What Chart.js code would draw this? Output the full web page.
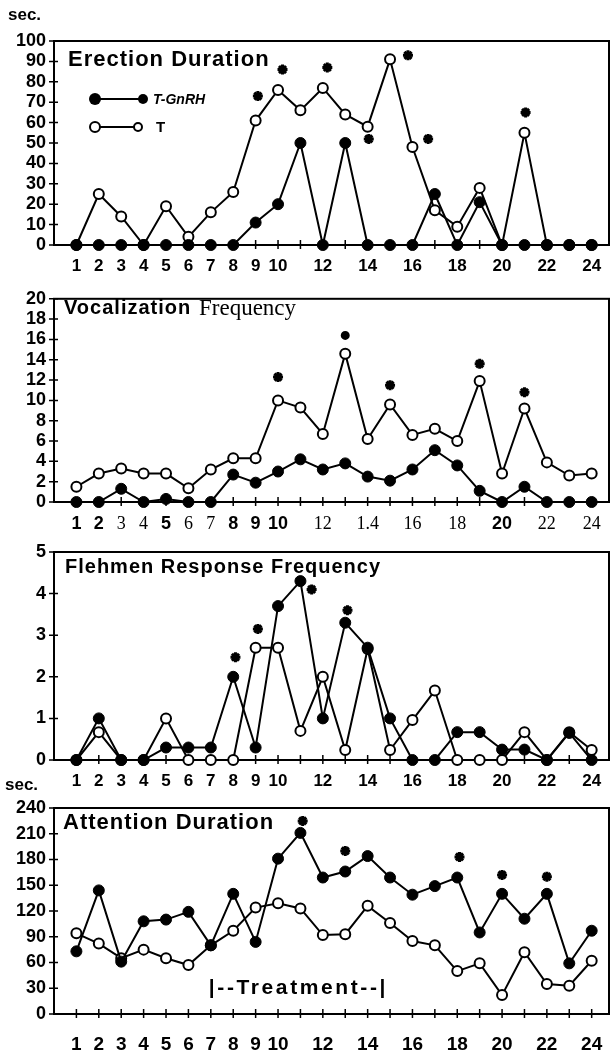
<!DOCTYPE html>
<html>
<head>
<meta charset="utf-8">
<script src="https://cdn.jsdelivr.net/npm/chart.js@4.4.1/dist/chart.umd.min.js"></script>
<style>
  body { margin: 0; background: #fff; width: 612px; height: 1050px; position: relative; overflow: hidden; }
  canvas { position: absolute; left: 0; }
</style>
</head>
<body>
<canvas id="erection" width="612" height="280" style="top:0px"></canvas>
<canvas id="vocal" width="612" height="250" style="top:280px"></canvas>
<canvas id="flehmen" width="612" height="260" style="top:530px"></canvas>
<canvas id="attention" width="612" height="280" style="top:770px"></canvas>
<script>
// days 1..24
const days = [1, 2, 3, 4, 5, 6, 7, 8, 9, 10, 11, 12, 13, 14, 15, 16, 17, 18, 19, 20, 21, 22, 23, 24];
const tickText = ["1", "2", "3", "4", "5", "6", "7", "8", "9", "10", "", "12", "", "14", "", "16", "", "18", "", "20", "", "22", "", "24"];
const tickTextVoc = ["1", "2", "3", "4", "5", "6", "7", "8", "9", "10", "", "12", "", "1.4", "", "16", "", "18", "", "20", "", "22", "", "24"];

// Erection duration (sec.)
const erectionGnRH = [0, 0, 0, 0, 0, 0, 0, 0, 11, 20, 50, 0, 50, 0, 0, 0, 25, 0, 21, 0, 0, 0, 0, 0];
const erectionT = [0, 25, 14, 0, 19, 4, 16, 26, 61, 76, 66, 77, 64, 58, 91, 48, 17, 9, 28, 0, 55, 0, 0, 0];
const erectionStarX = [9.1, 10.2, 12.2, 14.05, 15.8, 16.7, 21.05];
const erectionStarY = [73, 86, 87, 52, 93, 52, 65];

// Vocalization frequency
const vocalGnRH = [0, 0, 1.3, 0, 0.3, 0, 0, 2.7, 1.9, 3.0, 4.2, 3.2, 3.8, 2.5, 2.1, 3.2, 5.1, 3.6, 1.1, 0, 1.5, 0, 0, 0];
const vocalT = [1.5, 2.8, 3.3, 2.8, 2.8, 1.35, 3.2, 4.3, 4.3, 10.0, 9.3, 6.7, 14.6, 6.2, 9.6, 6.6, 7.2, 6.0, 11.9, 2.8, 9.2, 3.9, 2.6, 2.8];
const vocalStarX = [10, 13, 15, 19, 21];
const vocalStarY = [12.3, 16.4, 11.5, 13.6, 10.8];

// Flehmen response frequency
const flehmenGnRH = [0, 1.0, 0, 0, 0.3, 0.3, 0.3, 2.0, 0.3, 3.7, 4.3, 1.0, 3.3, 2.7, 1.0, 0, 0, 0.67, 0.67, 0.25, 0.25, 0, 0.65, 0];
const flehmenT = [0, 0.67, 0, 0, 1.0, 0, 0, 0, 2.7, 2.7, 0.7, 2.0, 0.24, 2.67, 0.24, 0.96, 1.67, 0, 0, 0, 0.67, 0, 0.67, 0.24];
const flehmenStarX = [8.1, 9.1, 11.5, 13.1];
const flehmenStarY = [2.47, 3.15, 4.1, 3.6];

// Attention duration (sec.)
const attentionGnRH = [73, 144, 61, 108, 110, 119, 80, 140, 84, 181, 211, 159, 166, 184, 159, 139, 149, 159, 95, 140, 111, 140, 59, 97];
const attentionT = [94, 82, 65, 75, 65, 57, 80, 97, 124, 129, 123, 92, 93, 126, 106, 85, 80, 50, 59, 22, 72, 35, 33, 62];
const attentionStarX = [11.1, 13, 18.1, 20, 22];
const attentionStarY = [225, 190, 183, 162, 160];

const treatmentFrom = 7;
const treatmentTo = 15;
const treatmentLevel = 30;

const X_MAX = 24.55;

const pts = (xs, ys) => xs.map((x, i) => ({ x: x, y: ys[i] }));

function series(values, filled) {
  return {
    data: pts(days, values),
    borderColor: "#000",
    borderWidth: 2,
    pointRadius: filled ? 5.5 : 5,
    pointBorderWidth: filled ? 1 : 2,
    pointBackgroundColor: filled ? "#000" : "#fff",
    pointBorderColor: "#000",
    clip: false,
    order: filled ? 0 : 1,
  };
}

function stars(xs, ys, styles) {
  return {
    type: "scatter",
    data: pts(xs, ys),
    showLine: false,
    pointStyle: styles || "star",
    pointRadius: styles ? styles.map((s) => (s === "circle" ? 3 : 5)) : 5,
    pointBorderWidth: 3,
    pointBorderColor: "#000",
    pointBackgroundColor: "#000",
    clip: false,
    order: 2,
  };
}

const boldSans = (size) => ({ family: "Liberation Sans", weight: "bold", size: size });

function xAxis(labels, height, pad, font) {
  return {
    type: "linear",
    min: 0,
    max: X_MAX,
    grid: { display: false, drawTicks: false },
    border: { display: false },
    afterFit: (s) => {
      s.height = height;
      s.paddingLeft = 0;
      s.paddingRight = 0;
    },
    // one tick per day, plus an unlabeled one at the right edge
    afterBuildTicks: (s) => { s.ticks = days.concat([X_MAX]).map((d) => ({ value: d })); },
    ticks: {
      autoSkip: false,
      maxRotation: 0,
      padding: pad,
      color: "#000",
      font: font || boldSans(17),
      callback: (v) => labels[v - 1] || "",
    },
  };
}

function yAxis(max, step) {
  return {
    min: 0,
    max: max,
    grid: { display: false, drawTicks: false },
    border: { display: false },
    afterFit: (s) => { s.width = 54; },
    ticks: { stepSize: step, autoSkip: false, padding: 8, color: "#000", font: boldSans(18) },
  };
}

// frame, small cross ticks, titles and the hand-drawn legend
const deco = {
  id: "deco",
  beforeDatasetsDraw(chart) {
    const ctx = chart.ctx;
    const a = chart.chartArea;
    const xs = chart.scales.x;
    const ys = chart.scales.y;
    ctx.save();
    ctx.strokeStyle = "#000";
    ctx.lineWidth = 2;
    ctx.strokeRect(a.left, a.top, chart.width - 3 - a.left, a.bottom - a.top);
    ctx.lineWidth = 1.5;
    ctx.beginPath();
    days.forEach((d) => {
      const px = xs.getPixelForValue(d);
      ctx.moveTo(px, a.bottom - 5);
      ctx.lineTo(px, a.bottom + 4);
    });
    ys.ticks.forEach((t) => {
      const py = ys.getPixelForValue(t.value);
      ctx.moveTo(a.left - 5, py);
      ctx.lineTo(a.left + 4, py);
    });
    ctx.stroke();
    ctx.restore();
  },
  afterDatasetsDraw(chart, args, opts) {
    const ctx = chart.ctx;
    ctx.save();
    ctx.fillStyle = "#000";
    ctx.strokeStyle = "#000";
    ctx.textBaseline = "middle";
    (opts.texts || []).forEach((t) => {
      ctx.font = t.font;
      ctx.letterSpacing = (t.spacing || 0) + "px";
      ctx.fillText(t.text, t.x, t.y);
    });
    ctx.letterSpacing = "0px";
    if (opts.legend) {
      ctx.lineWidth = 2;
      ctx.beginPath();
      ctx.moveTo(95, 99); ctx.lineTo(143, 99);
      ctx.moveTo(95, 127); ctx.lineTo(138, 127);
      ctx.stroke();
      [[95, 99, 6], [143, 99, 5]].forEach(([x, y, r]) => {
        ctx.beginPath(); ctx.arc(x, y, r, 0, Math.PI * 2); ctx.fill();
      });
      [[95, 127, 5], [138, 127, 4]].forEach(([x, y, r]) => {
        ctx.beginPath(); ctx.arc(x, y, r, 0, Math.PI * 2);
        ctx.fillStyle = "#fff"; ctx.fill(); ctx.stroke();
      });
      ctx.fillStyle = "#000";
      ctx.font = "italic bold 14px 'Liberation Sans'";
      ctx.fillText("T-GnRH", 153, 100);
      ctx.font = "bold 15px 'Liberation Sans'";
      ctx.fillText("T", 156, 128);
    }
    if (opts.treatment) {
      const xs = chart.scales.x;
      const ys = chart.scales.y;
      const x0 = xs.getPixelForValue(treatmentFrom);
      const x1 = xs.getPixelForValue(treatmentTo);
      const y = ys.getPixelForValue(treatmentLevel);
      ctx.font = "bold 21px 'Liberation Sans'";
      const label = "|--Treatment--|";
      const w = ctx.measureText(label).width;
      ctx.letterSpacing = ((x1 - x0 - w) / label.length) + "px";
      ctx.fillText(label, x0 - 2, y);
    }
    ctx.restore();
  },
};

function makeChart(id, gn, t, starSet, yMax, yStep, top, xHeight, xPad, labels, texts, extra, tickFont) {
  return new Chart(document.getElementById(id), {
    type: "line",
    data: { datasets: [series(gn, true), series(t, false), starSet] },
    options: {
      responsive: false,
      animation: false,
      devicePixelRatio: 1,
      layout: { padding: { top: top, right: 2, left: 0, bottom: 0 } },
      scales: { x: xAxis(labels, xHeight, xPad, tickFont), y: yAxis(yMax, yStep) },
      plugins: {
        legend: { display: false },
        tooltip: { enabled: false },
        deco: Object.assign({ texts: texts }, extra),
      },
    },
    plugins: [deco],
  });
}

const secFont = "bold 17px 'Liberation Sans'";

makeChart("erection", erectionGnRH, erectionT, stars(erectionStarX, erectionStarY),
  100, 10, 41, 35, 11, tickText,
  [
    { text: "sec.", x: 8, y: 15, font: secFont },
    { text: "Erection Duration", x: 68, y: 60, font: "bold 22px 'Liberation Sans'", spacing: 1 },
  ],
  { legend: true });

const vocBold = [1, 2, 5, 8, 9, 10, 20];
makeChart("vocal", vocalGnRH, vocalT,
  stars(vocalStarX, vocalStarY, ["star", "circle", "star", "star", "star"]),
  20, 2, 15, 28, 11, tickTextVoc,
  [
    { text: "Vocalization", x: 64, y: 28, font: "bold 20px 'Liberation Sans'", spacing: 1 },
    { text: "Frequency", x: 199, y: 29, font: "23px 'Liberation Serif'" },
  ],
  {},
  (c) => (c.tick && vocBold.includes(c.tick.value) ? boldSans(18) : { family: "Liberation Serif", size: 18 }));

makeChart("flehmen", flehmenGnRH, flehmenT, stars(flehmenStarX, flehmenStarY),
  5, 1, 22, 30, 11, tickText,
  [
    { text: "Flehmen Response Frequency", x: 65, y: 37, font: "bold 20px 'Liberation Sans'", spacing: 1 },
  ],
  {});

makeChart("attention", attentionGnRH, attentionT, stars(attentionStarX, attentionStarY),
  240, 30, 38, 36, 19, tickText,
  [
    { text: "sec.", x: 5, y: 15, font: secFont },
    { text: "Attention Duration", x: 63, y: 53, font: "bold 22px 'Liberation Sans'", spacing: 1 },
  ],
  { treatment: true }, boldSans(19));
</script>
</body>
</html>
